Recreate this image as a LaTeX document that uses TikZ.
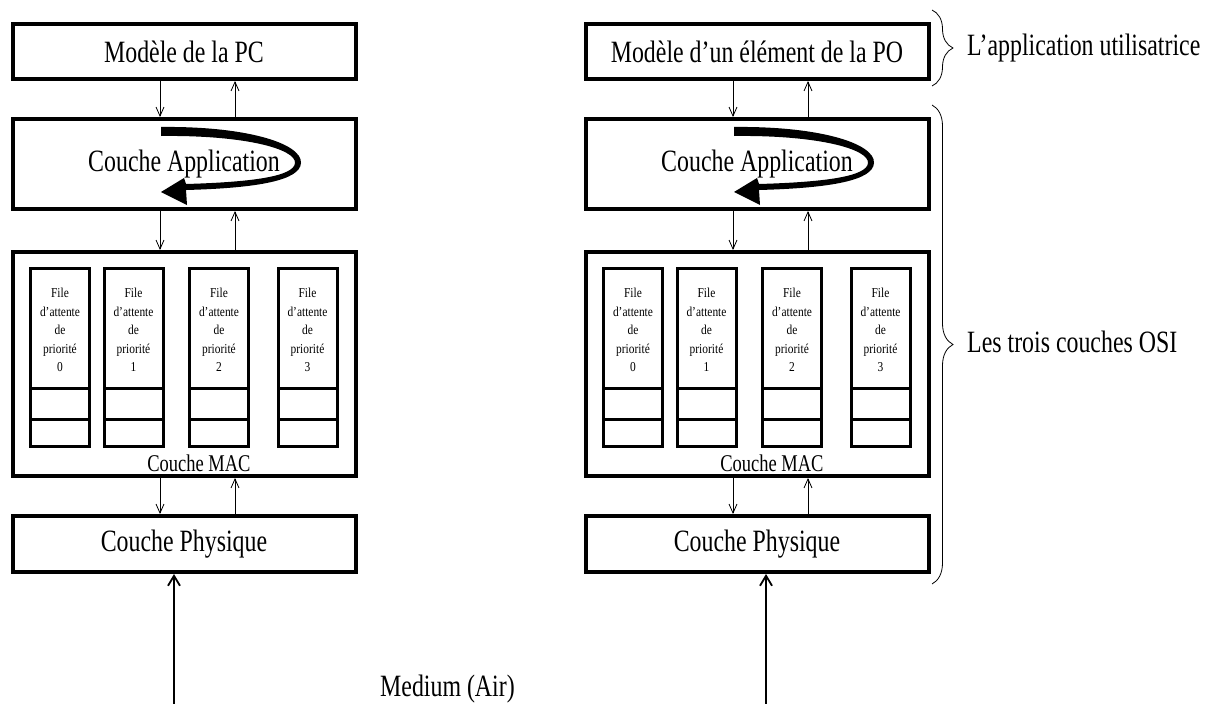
\documentclass[tikz,border=0pt]{standalone}
\usepackage{fontspec}
\setmainfont{Liberation Serif}[FakeStretch=0.77]
\newfontfamily\qfont{Liberation Serif}[FakeStretch=0.84]
\usetikzlibrary{arrows.meta,decorations.pathreplacing,calc}
\begin{document}
\begin{tikzpicture}[x=1pt,y=-1pt,
 layer/.style={draw, line width=4pt, minimum width=343pt, inner sep=0pt, font=\fontsize{31}{33}\selectfont},
 queue/.style={draw, line width=3pt, minimum width=59pt, inner sep=0pt},
 qtext/.style={align=center, inner sep=0pt, font=\qfont\fontsize{13.6}{18.5}\selectfont},
 maclbl/.style={inner sep=0pt, font=\fontsize{24}{26}\selectfont, anchor=base},
 sarr/.style={line width=0.8pt, -{Straight Barb[length=9pt,width=8pt]}},
 marr/.style={line width=1.8pt, -{Straight Barb[length=10pt,width=12pt]}},
 brc/.style={decorate, decoration={brace, amplitude=21pt}, line width=0.8pt},
 lbl/.style={inner sep=0pt, font=\fontsize{31}{33}\selectfont, anchor=base west},
 curvarr/.pic={\fill (161,127) .. controls (245,126) and (302,143) .. (301,163) .. controls (300,180) and (260,188) .. (186,190) -- (187,205) -- (161,192) -- (184,178) -- (186,184) .. controls (255,182) and (294,176) .. (295,163) .. controls (296,149) and (245,135) .. (161,136) -- cycle;}
]
\useasboundingbox (0,0) rectangle (1211,704);

% ---------- left column ----------
\node[layer, minimum height=55pt] (mL) at (184,51.5) {Modèle de la PC};
\node[layer, minimum height=90pt] (aL) at (184,164) {Couche Application};
\node[layer, minimum height=224pt] (cL) at (184,364) {};
\node[layer, minimum height=56pt] (pL) at (184,544) {Couche Physique};
\pic at (0,0) {curvarr};
\foreach \qx [count=\i from 0] in {60,133.5,219,307.5} {
  \node[queue, minimum height=119.5pt] (qL\i) at (\qx,328.25) {};
  \node[queue, minimum height=31pt] (qLa\i) at (\qx,403.5) {};
  \node[queue, minimum height=27.5pt] (qLb\i) at (\qx,432.75) {};
  \node[qtext, anchor=north] (tL\i) at (\qx,288) {File\\d’attente\\de\\priorité\\\i};
}
\node[maclbl] (macL) at (199,471) {Couche MAC};
\draw[sarr] (160,0 |- mL.south) -- (160,0 |- aL.north);
\draw[sarr] (235,0 |- aL.north) -- (235,0 |- mL.south);
\draw[sarr] (160,0 |- aL.south) -- (160,0 |- cL.north);
\draw[sarr] (235,0 |- cL.north) -- (235,0 |- aL.south);
\draw[sarr] (160,0 |- cL.south) -- (160,0 |- pL.north);
\draw[sarr] (235,0 |- pL.north) -- (235,0 |- cL.south);
\coordinate (airL) at (174,704);
\draw[marr] (airL) -- (airL |- pL.south);

% ---------- right column ----------
\node[layer, minimum height=55pt] (mR) at (757,51.5) {Modèle d’un élément de la PO};
\node[layer, minimum height=90pt] (aR) at (757,164) {Couche Application};
\node[layer, minimum height=224pt] (cR) at (757,364) {};
\node[layer, minimum height=56pt] (pR) at (757,544) {Couche Physique};
\pic at (573,0) {curvarr};
\foreach \qx [count=\i from 0] in {633,706.5,792,880.5} {
  \node[queue, minimum height=119.5pt] (qR\i) at (\qx,328.25) {};
  \node[queue, minimum height=31pt] (qRa\i) at (\qx,403.5) {};
  \node[queue, minimum height=27.5pt] (qRb\i) at (\qx,432.75) {};
  \node[qtext, anchor=north] (tR\i) at (\qx,288) {File\\d’attente\\de\\priorité\\\i};
}
\node[maclbl] (macR) at (772,471) {Couche MAC};
\draw[sarr] (733,0 |- mR.south) -- (733,0 |- aR.north);
\draw[sarr] (808,0 |- aR.north) -- (808,0 |- mR.south);
\draw[sarr] (733,0 |- aR.south) -- (733,0 |- cR.north);
\draw[sarr] (808,0 |- cR.north) -- (808,0 |- aR.south);
\draw[sarr] (733,0 |- cR.south) -- (733,0 |- pR.north);
\draw[sarr] (808,0 |- pR.north) -- (808,0 |- cR.south);
\coordinate (airR) at (766,704);
\draw[marr] (airR) -- (airR |- pR.south);

% ---------- braces and labels ----------
\coordinate (b1t) at (932,10);
\coordinate (b1b) at (932,86);
\draw[brc] (b1t) -- (b1b);
\coordinate (b2t) at (932,105);
\coordinate (b2b) at (932,584);
\draw[brc] (b2t) -- (b2b);
\node[lbl] (appu) at (967,55) {L’application utilisatrice};
\node[lbl] (osi) at (967,352) {Les trois couches OSI};
\node[lbl] (med) at (380,696) {Medium (Air)};
\end{tikzpicture}
\end{document}
